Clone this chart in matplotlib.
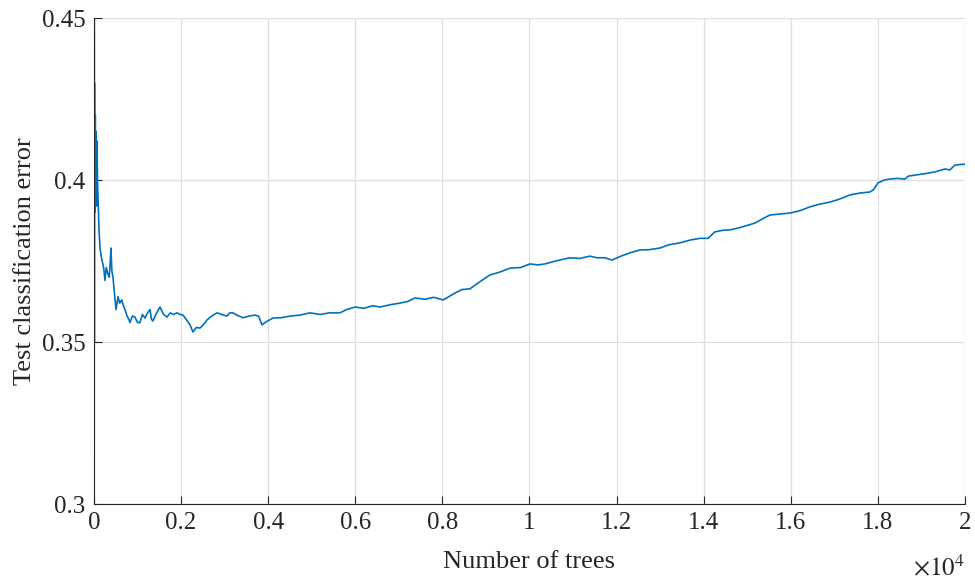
import matplotlib

matplotlib.use("Agg")

import matplotlib.pyplot as plt

# number of trees vs. test classification error
trees = [
    1, 2, 3, 4, 6, 8, 10, 14, 18, 23,
    30, 40, 50, 60, 70, 80, 99, 115, 138, 160,
    185, 207, 230, 253, 280, 321, 350, 370, 390, 410,
    436, 470, 505, 530, 551, 590, 637, 680, 712, 760,
    800, 827, 880, 941, 1000, 1056, 1110, 1171, 1230, 1286,
    1320, 1355, 1420, 1515, 1600, 1676, 1750, 1830, 1906, 1980,
    2043, 2120, 2204, 2273, 2350, 2434, 2520, 2595, 2700, 2824,
    2940, 3054, 3120, 3191, 3300, 3421, 3560, 3696, 3780, 3857,
    3950, 4110, 4300, 4500, 4730, 4960, 5200, 5400, 5648, 5800,
    5993, 6200, 6400, 6567, 6800, 7026, 7200, 7370, 7600, 7800,
    8013, 8150, 8289, 8450, 8633, 8850, 9092, 9300, 9551, 9800,
    10010, 10200, 10355, 10600, 10929, 11150, 11388, 11550, 11733, 11893,
    12100, 12300, 12536, 12750, 12995, 13200, 13454, 13700, 13914, 14100,
    14258, 14450, 14603, 14800, 15000, 15177, 15350, 15521, 15750, 15980,
    16200, 16440, 16650, 16898, 17100, 17358, 17600, 17817, 17900, 18000,
    18150, 18276, 18450, 18621, 18700, 18850, 19100, 19310, 19540, 19654,
    19769, 19900, 20000,
]
test_error = [
    0.62, 0.26, 0.50, 0.30, 0.46, 0.35, 0.43, 0.39, 0.418, 0.405,
    0.420, 0.398, 0.415, 0.392, 0.412, 0.400, 0.392, 0.385, 0.379, 0.377,
    0.375, 0.374, 0.372, 0.369, 0.373, 0.371, 0.370, 0.374, 0.379, 0.372,
    0.370, 0.365, 0.360, 0.362, 0.364, 0.362, 0.363, 0.361, 0.360, 0.358,
    0.357, 0.356, 0.358, 0.3577, 0.356, 0.356, 0.3585, 0.3574, 0.359, 0.360,
    0.357, 0.3565, 0.3585, 0.3608, 0.3585, 0.3577, 0.359, 0.3585, 0.359, 0.3585,
    0.3583, 0.357, 0.3553, 0.3531, 0.3545, 0.3543, 0.3555, 0.3568, 0.358, 0.359,
    0.3585, 0.358, 0.359, 0.359, 0.3582, 0.3575, 0.358, 0.3583, 0.358, 0.3553,
    0.3562, 0.3574, 0.3575, 0.358, 0.3583, 0.359, 0.3585, 0.359, 0.359, 0.360,
    0.3608, 0.3604, 0.3612, 0.3608, 0.3615, 0.362, 0.3625, 0.3636, 0.3632, 0.3638,
    0.363, 0.364, 0.3651, 0.3662, 0.3664, 0.3685, 0.3707, 0.3715, 0.3728, 0.373,
    0.3741, 0.3738, 0.3741, 0.375, 0.376, 0.3758, 0.3765, 0.376, 0.376, 0.3753,
    0.3765, 0.3775, 0.3784, 0.3785, 0.379, 0.380, 0.3806, 0.3815, 0.382, 0.382,
    0.384, 0.3845, 0.3846, 0.3852, 0.386, 0.3867, 0.388, 0.3892, 0.3895, 0.3898,
    0.3905, 0.3917, 0.3925, 0.3932, 0.394, 0.3954, 0.396, 0.3963, 0.397, 0.3991,
    0.400, 0.4003, 0.4005, 0.4003, 0.4012, 0.4015, 0.402, 0.4025, 0.4034, 0.4031,
    0.4046, 0.4048, 0.4049,
]

x_ticks = [0, 2000, 4000, 6000, 8000, 10000, 12000, 14000, 16000, 18000, 20000]
x_tick_labels = ["0", "0.2", "0.4", "0.6", "0.8", "1", "1.2", "1.4", "1.6", "1.8", "2"]
y_ticks = [0.30, 0.35, 0.40, 0.45]
y_tick_labels = ["0.3", "0.35", "0.4", "0.45"]

plt.rcParams["font.family"] = ["Liberation Serif", "DejaVu Serif"]
plt.rcParams["mathtext.fontset"] = "stix"

fig = plt.figure(figsize=(9.75, 5.81), dpi=100)
ax = fig.add_axes([0.0964, 0.1325, 0.8933, 0.8365])

ax.plot(trees, test_error, color="#0072BD", linewidth=1.2)

ax.set_xlim(0, 20000)
ax.set_ylim(0.3, 0.45)
ax.set_xticks(x_ticks)
ax.set_xticklabels(x_tick_labels)
ax.set_yticks(y_ticks)
ax.set_yticklabels(y_tick_labels)

ax.grid(True, color="#dfdfdf", linewidth=0.9)
ax.set_axisbelow(True)
for side in ("top", "right"):
    ax.spines[side].set_visible(False)
for side in ("left", "bottom"):
    ax.spines[side].set_color("#262626")
    ax.spines[side].set_linewidth(0.8)
ax.tick_params(direction="in", length=6, width=0.8, colors="#262626",
               labelsize=18, pad=6)

ax.set_xlabel("Number of trees", fontsize=19, color="#262626", labelpad=12)
ax.set_ylabel("Test classification error", fontsize=19, color="#262626", labelpad=4)
ax.text(1.0, -0.147, r"$\times 10^{4}$", transform=ax.transAxes, ha="right",
        va="baseline", fontsize=18, color="#262626")

fig.savefig("out.png", dpi=100)
plt.close(fig)
